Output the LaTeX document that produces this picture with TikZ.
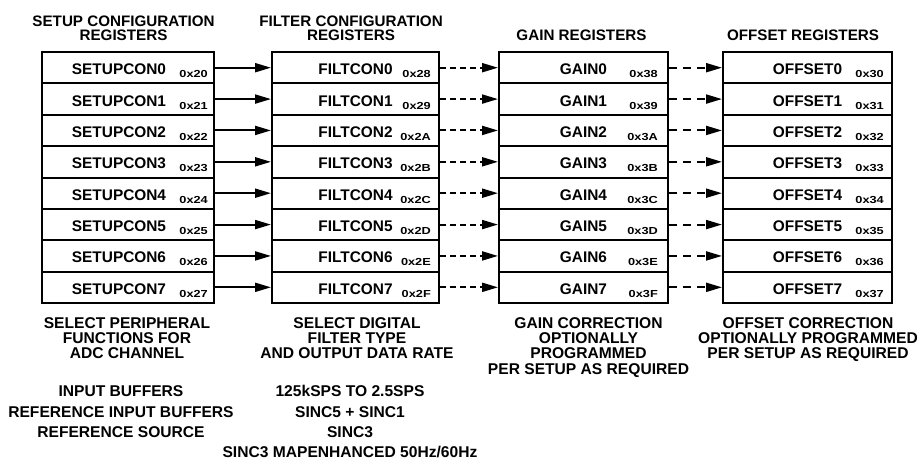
\documentclass[tikz,border=0pt]{standalone}
\usepackage{fontspec}
\setmainfont{Liberation Sans}
\newfontfamily\addrfont{Liberation Sans}[FakeStretch=1.25]
\usetikzlibrary{arrows.meta}
\tikzset{
  regrow/.style={draw, line width=2pt, minimum height=31.375pt, inner sep=0pt},
  lbl/.style={anchor=base, inner sep=0pt, font=\bfseries\fontsize{15.4}{15.4}\selectfont},
  addr/.style={anchor=base east, inner sep=0pt, font=\addrfont\bfseries\fontsize{10.2}{10.2}\selectfont},
  hdr/.style={anchor=base, inner sep=0pt, font=\bfseries\fontsize{15.2}{15.2}\selectfont},
  txt/.style={anchor=base, inner sep=0pt, font=\bfseries\fontsize{15.6}{15.6}\selectfont},
  solidarr/.style={line width=2pt, -{Triangle[length=16pt,width=9pt]}},
  dasharr/.style={line width=2pt, dash pattern=on 6pt off 4pt, -{Triangle[length=16pt,width=9pt]}},
  dasharrb/.style={line width=2pt, dash pattern=on 8pt off 6pt, -{Triangle[length=16pt,width=9pt]}}
}
\begin{document}
\begin{tikzpicture}[x=1pt,y=-1pt]
\useasboundingbox (0,0) rectangle (917,459);
% headers
\node[hdr] (h1a) at (123.5,26) {SETUP CONFIGURATION};
\node[hdr] (h1b) at (123.5,40.7) {REGISTERS};
\node[hdr] (h2a) at (351,26) {FILTER CONFIGURATION};
\node[hdr] (h2b) at (351,40.7) {REGISTERS};
\node[hdr] (h3) at (581.5,40.5) {GAIN REGISTERS};
\node[hdr] (h4) at (803,40.5) {OFFSET REGISTERS};
% register rows
\foreach \i/\a/\b/\c/\d in {0/20/28/38/30,1/21/29/39/31,2/22/2A/3A/32,3/23/2B/3B/33,4/24/2C/3C/34,5/25/2D/3D/35,6/26/2E/3E/36,7/27/2F/3F/37}{
  \pgfmathsetmacro\yy{67.6875+31.375*\i}
  \node[regrow, minimum width=172.3pt] (s\i) at (127.85,\yy) {};
  \node[regrow, minimum width=167pt] (f\i) at (355.5,\yy) {};
  \node[regrow, minimum width=169pt] (g\i) at (583.5,\yy) {};
  \node[regrow, minimum width=169pt] (o\i) at (807.5,\yy) {};
  \node[lbl] (sl\i) at ([xshift=-8.85pt,yshift=-7pt]s\i.center) {SETUPCON\i};
  \node[lbl] (fl\i) at ([yshift=-7pt]f\i.center) {FILTCON\i};
  \node[lbl] (gl\i) at ([yshift=-7pt]g\i.center) {GAIN\i};
  \node[lbl] (ol\i) at ([yshift=-7pt]o\i.center) {OFFSET\i};
  \node[addr] (sa\i) at ([xshift=-7pt,yshift=-10pt]s\i.east) {0x\a};
  \node[addr] (fa\i) at ([xshift=-9pt,yshift=-10pt]f\i.east) {0x\b};
  \node[addr] (ga\i) at ([xshift=-11pt,yshift=-10pt]g\i.east) {0x\c};
  \node[addr] (oa\i) at ([xshift=-9pt,yshift=-10pt]o\i.east) {0x\d};
  \draw[solidarr] (s\i.east) -- (f\i.west);
  \draw[dasharr] (f\i.east) -- (g\i.west);
  \draw[dasharrb] (g\i.east) -- (o\i.west);
}
% descriptions
\node[txt] (d1a) at (127,328.3) {SELECT PERIPHERAL};
\node[txt] (d1b) at (127,343.5) {FUNCTIONS FOR};
\node[txt] (d1c) at (127,358.8) {ADC CHANNEL};
\node[txt] (d2a) at (357,328.3) {SELECT DIGITAL};
\node[txt] (d2b) at (357,343.5) {FILTER TYPE};
\node[txt] (d2c) at (357,358.8) {AND OUTPUT DATA RATE};
\node[txt] (d3a) at (588.5,328.3) {GAIN CORRECTION};
\node[txt] (d3b) at (588.5,343.5) {OPTIONALLY};
\node[txt] (d3c) at (588.5,358.8) {PROGRAMMED};
\node[txt] (d3d) at (588.5,374.5) {PER SETUP AS REQUIRED};
\node[txt] (d4a) at (808,328.3) {OFFSET CORRECTION};
\node[txt] (d4b) at (808,343.5) {OPTIONALLY PROGRAMMED};
\node[txt] (d4c) at (808,358.8) {PER SETUP AS REQUIRED};
% option lists
\node[txt] (l1a) at (121,396.6) {INPUT BUFFERS};
\node[txt] (l1b) at (121,417) {REFERENCE INPUT BUFFERS};
\node[txt] (l1c) at (121,437.4) {REFERENCE SOURCE};
\node[txt] (l2a) at (350,396.6) {125kSPS TO 2.5SPS};
\node[txt] (l2b) at (350,417) {SINC5 + SINC1};
\node[txt] (l2c) at (350,437.4) {SINC3};
\node[txt] (l2d) at (350,457.5) {SINC3 MAPENHANCED 50Hz/60Hz};
\end{tikzpicture}
\end{document}
